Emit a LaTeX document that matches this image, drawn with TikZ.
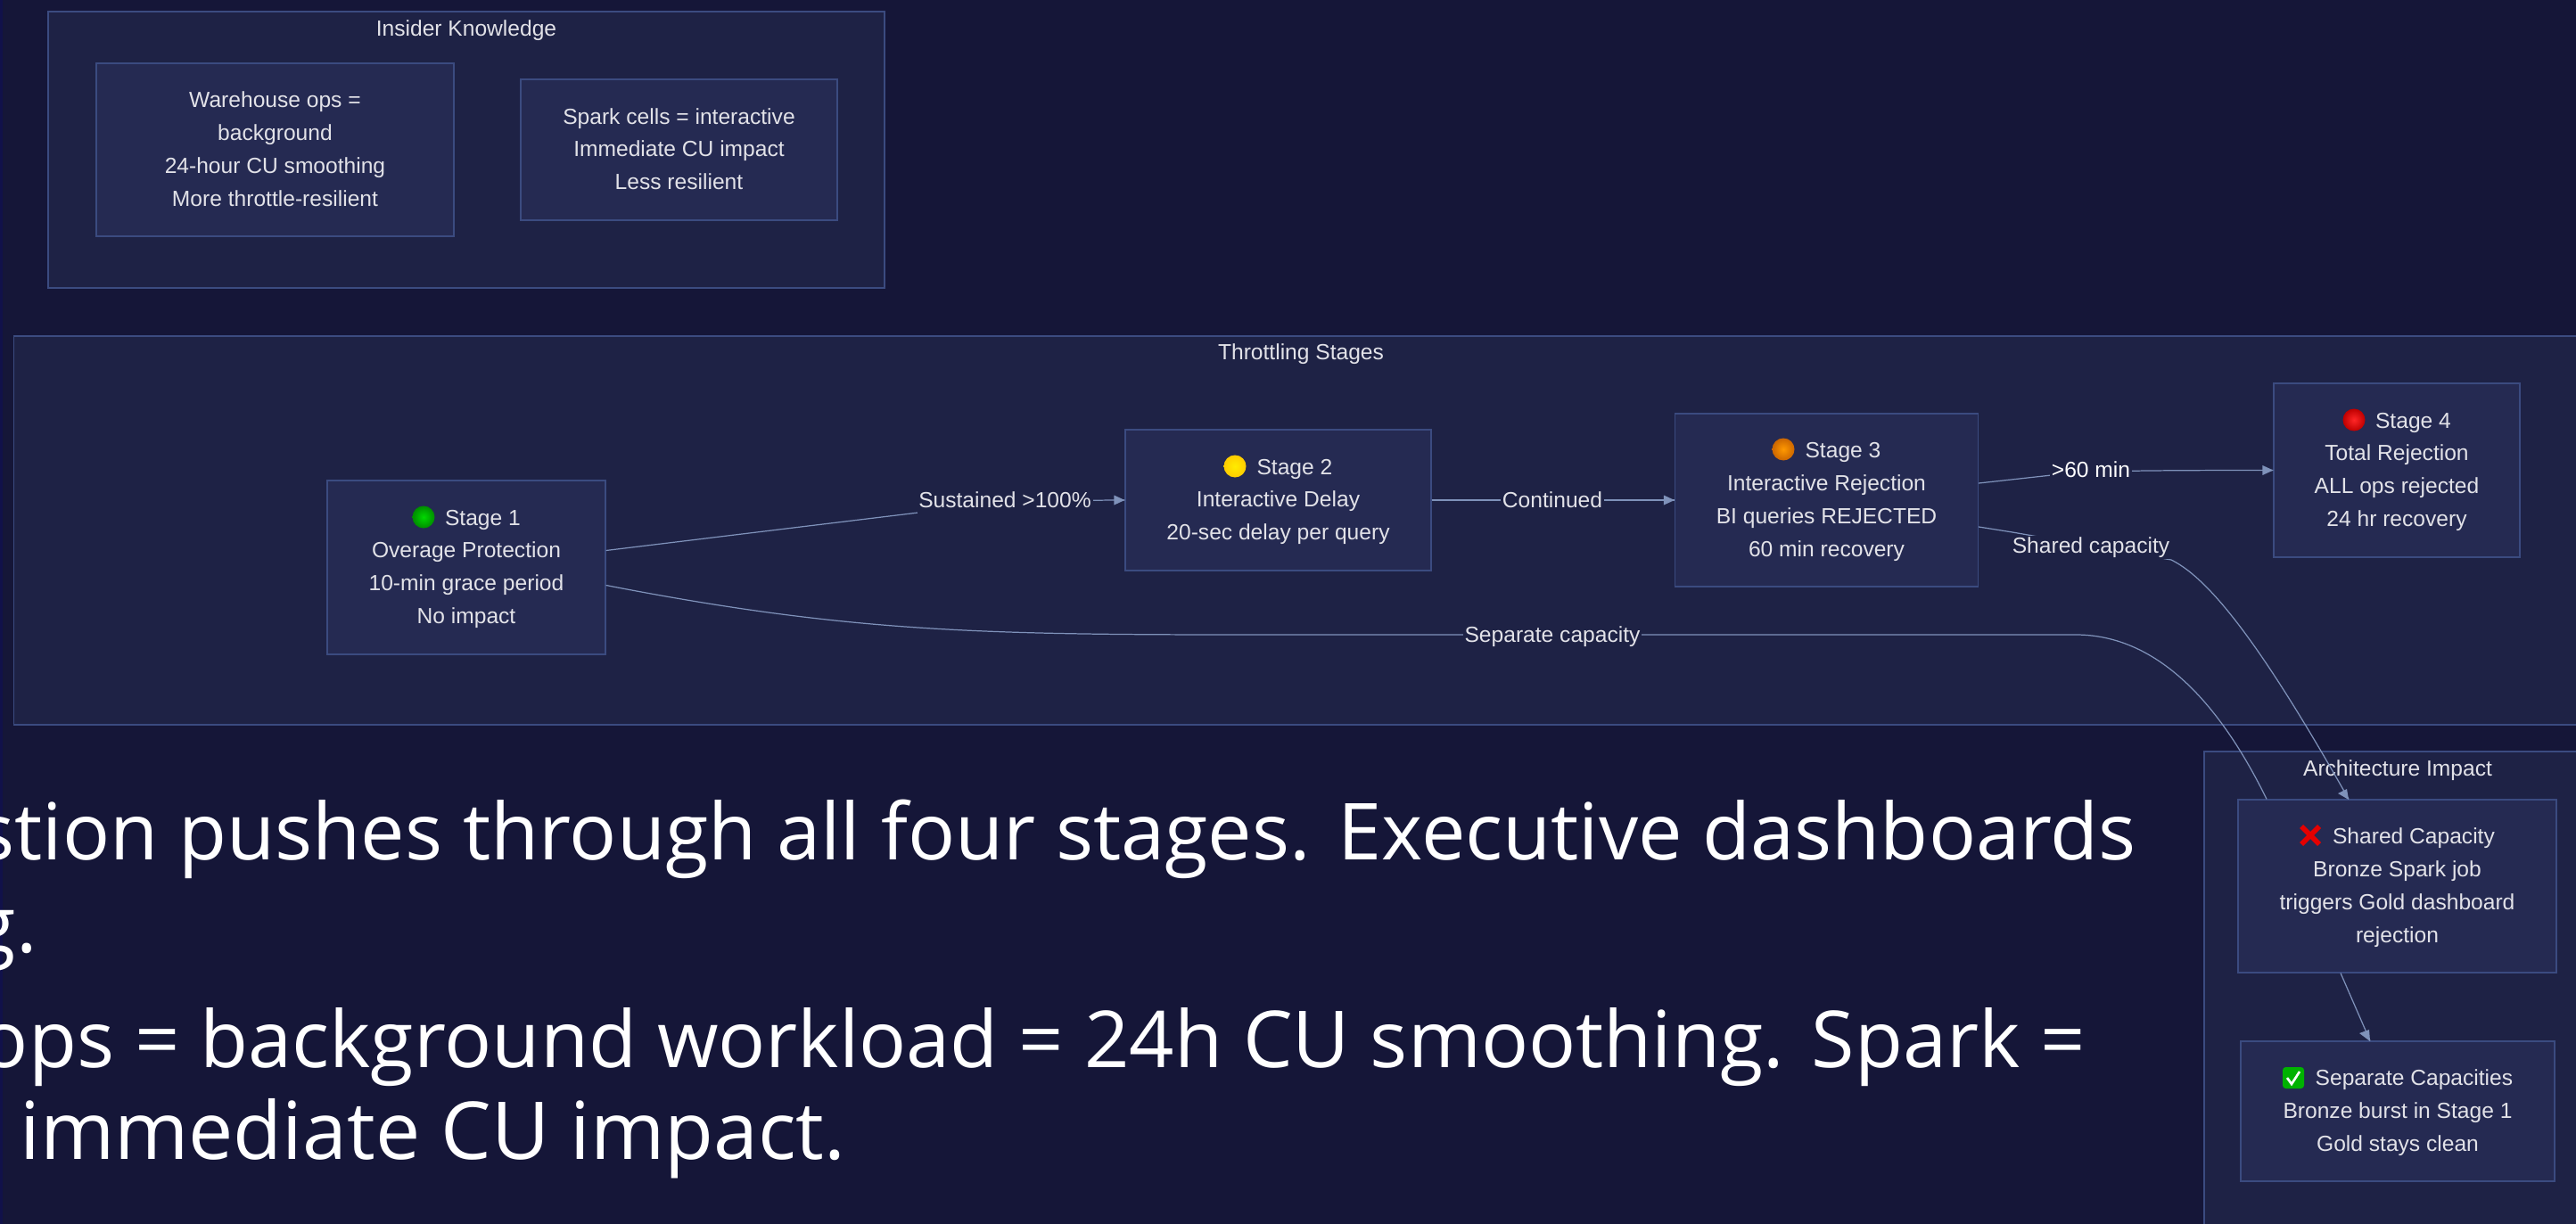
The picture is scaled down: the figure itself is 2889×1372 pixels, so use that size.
\documentclass[tikz,border=0pt]{standalone}
\usepackage{fontspec}
\setmainfont{Liberation Sans}
\newfontfamily\slidefont{Open Sans}
\definecolor{pagebg}{HTML}{151638}
\definecolor{pageedge}{HTML}{11114A}
\definecolor{groupbg}{HTML}{1E2245}
\definecolor{boxbg}{HTML}{252A52}
\definecolor{edgeline}{HTML}{3B4B80}
\definecolor{linkline}{HTML}{7F92BA}
\definecolor{labeltext}{HTML}{E2E2E8}
\tikzset{
  groupbox/.style={draw=edgeline,fill=groupbg,line width=0.7pt,inner sep=0pt},
  stagebox/.style={draw=edgeline,fill=boxbg,line width=0.7pt,align=center,text=labeltext,
    inner sep=0pt,font=\fontsize{14}{21}\selectfont,
    execute at end node=\rule[-6.3pt]{0pt}{6.3pt}},
  grouptitle/.style={text=labeltext,inner sep=0pt,font=\fontsize{14}{21}\selectfont,
    text height=10pt,text depth=3pt},
  linklabel/.style={fill=groupbg,text=labeltext,inner sep=1pt,font=\fontsize{14}{21}\selectfont,
    text height=10pt,text depth=3pt},
  link/.style={draw=linkline,line width=0.7pt},
  slideline/.style={text=white,inner sep=0pt,font=\slidefont\fontsize{50.2}{60}\selectfont}
}
\newcommand{\toprow}{\rule{0pt}{15.3pt}}
\newcommand{\badgegap}{\toprow\hspace{21pt}}
\begin{document}
\begin{tikzpicture}[x=0.02cm,y=-0.02cm]
\useasboundingbox (0,0) rectangle (2889,1372);
\fill [pagebg] (-5,-5) rectangle (2900,1380);
\fill [pageedge] (-5,-5) rectangle (3,1380);
% groups
\node [groupbox,minimum width=18.76cm,minimum height=6.2cm] (insider) at (523,168) {};
\node [grouptitle] (insidertitle) at (523,34) {Insider Knowledge};
\node [groupbox,minimum width=57.76cm,minimum height=8.72cm] (throttling) at (1459,595) {};
\node [grouptitle] (throttlingtitle) at (1459,397) {Throttling Stages};
\node [groupbox,minimum width=8.68cm,minimum height=11.4cm] (architecture) at (2689,1128) {};
\node [grouptitle] (architecturetitle) at (2689,864) {Architecture Impact};
% boxes
\node [stagebox,minimum width=8.02cm,minimum height=3.88cm] (warehouse) at (308.5,168) {\toprow Warehouse ops =\\background\\24-hour CU smoothing\\More throttle-resilient};
\node [stagebox,minimum width=7.1cm,minimum height=3.16cm] (spark) at (761.5,168) {\toprow Spark cells = interactive\\Immediate CU impact\\Less resilient};
\node [stagebox,minimum width=6.24cm,minimum height=3.9cm] (stageone) at (523,636.5) {\badgegap Stage 1\\Overage Protection\\10-min grace period\\No impact};
\node [stagebox,minimum width=6.86cm,minimum height=3.16cm] (stagetwo) at (1433.5,561) {\badgegap Stage 2\\Interactive Delay\\20-sec delay per query};
\node [stagebox,minimum width=6.8cm,minimum height=3.88cm] (stagethree) at (2048.5,561) {\badgegap Stage 3\\Interactive Rejection\\BI queries REJECTED\\60 min recovery};
\node [stagebox,minimum width=5.52cm,minimum height=3.9cm] (stagefour) at (2688,527.5) {\badgegap Stage 4\\Total Rejection\\ALL ops rejected\\24 hr recovery};
\node [stagebox,minimum width=7.14cm,minimum height=3.88cm] (shared) at (2688.5,994) {\badgegap Shared Capacity\\Bronze Spark job\\triggers Gold dashboard\\rejection};
\node [stagebox,minimum width=7.04cm,minimum height=3.14cm] (separate) at (2689,1246.5) {\badgegap Separate Capacities\\Bronze burst in Stage 1\\Gold stays clean};
% badges
\shade [inner color=green!85!black,outer color=green!55!black] (475,580) circle (12.5);
\shade [inner color=yellow!85!orange,outer color=yellow!60!orange] (1385,523) circle (12.5);
\shade [inner color=orange!80!yellow,outer color=orange!80!black] (2000,504) circle (12.5);
\shade [inner color=red!85!white,outer color=red!75!black] (2640,471) circle (12.5);
\draw [red!90!black,line width=3.2pt] (2581,927) -- (2601,947) (2601,927) -- (2581,947);
\fill [green!70!black,rounded corners=2pt] (2560,1197) rectangle (2584,1221);
\draw [white,line width=1.5pt] (2565,1209) -- (2570,1216) -- (2579,1202);
% links
\draw [link] ([yshift=0.38cm]stageone.east) -- (1030,575) .. controls (1100,566) and (1170,561) .. (stagetwo.west);
\fill [linkline] (stagetwo.west) -- ++(-12,5.5) -- ++(0,-11);
\draw [link] ([yshift=0.38cm]stagethree.east) -- (2301,533) .. controls (2330,529) and (2360,527.5) .. (stagefour.west);
\fill [linkline] (stagefour.west) -- ++(-12,5.5) -- ++(0,-11);
\draw [link] (stagetwo.east) -- (stagethree.west);
\fill [linkline] (stagethree.west) -- ++(-12,5.5) -- ++(0,-11);
\draw [link] ([yshift=-0.6cm]stagethree.east) -- (2257,597) -- (2435,628) .. controls (2480,650) and (2540,730) .. ([xshift=-1.09cm]shared.north);
\draw [link] ([yshift=-0.4cm]stageone.east) .. controls (950,709) and (1100,712) .. (1400,712) -- (2328,712) .. controls (2420,712) and (2490,790) .. ([xshift=-2.93cm]shared.north);
\fill [linkline] (2634,897) -- (2622,890) -- (2632,885);
\draw [link] ([xshift=-1.27cm]shared.south) -- ([xshift=-0.62cm]separate.north);
\fill [linkline] (2658,1168) -- (2646,1159) -- (2657,1155);
% link labels
\node [linklabel] (sustained) at (1127,563) {Sustained >100\%};
\node [linklabel] (continued) at (1741,563) {Continued};
\node [linklabel,text=white] (overhour) at (2345,529) {>60 min};
\node [linklabel] (sharedlabel) at (2345,614) {Shared capacity};
\node [linklabel] (separatelabel) at (1741,714) {Separate capacity};
% slide text behind the diagram
\node [slideline,anchor=base east] (lineone) at (2396,964) {stion pushes through all four stages. Executive dashboards};
\node [slideline,anchor=base east] (linetwo) at (42,1068) {g.};
\node [slideline,anchor=base east] (linethree) at (2339,1197) {ops = background workload = 24h CU smoothing. Spark =};
\node [slideline,anchor=base west,font=\slidefont\fontsize{51}{60}\selectfont] (linefour) at (22,1300) {immediate CU impact.};
\end{tikzpicture}
\end{document}
